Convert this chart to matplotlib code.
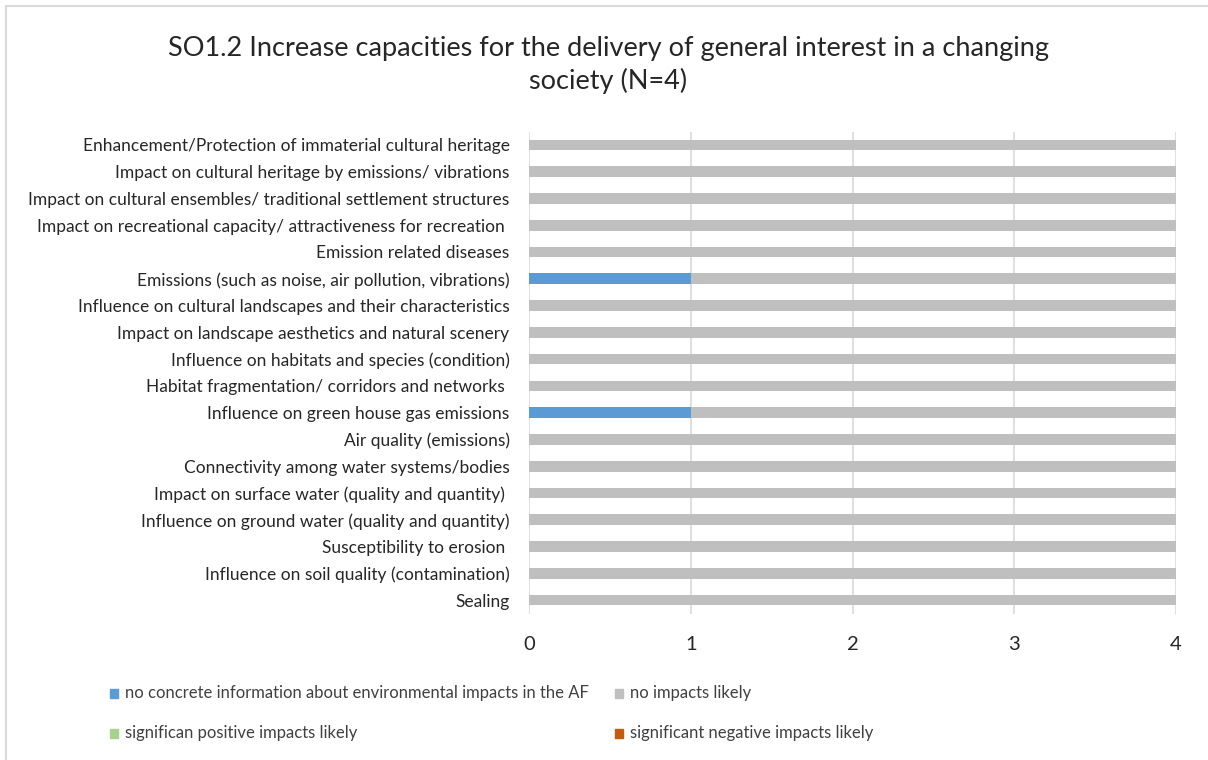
import matplotlib
matplotlib.use("Agg")
import matplotlib.pyplot as plt
from matplotlib.patches import Rectangle
import numpy as np

plt.rcParams['font.family'] = ['Lato', 'DejaVu Sans']

categories = [
    "Sealing",
    "Influence on soil quality (contamination)",
    "Susceptibility to erosion ",
    "Influence on ground water (quality and quantity)",
    "Impact on surface water (quality and quantity) ",
    "Connectivity among water systems/bodies",
    "Air quality (emissions)",
    "Influence on green house gas emissions",
    "Habitat fragmentation/ corridors and networks ",
    "Influence on habitats and species (condition)",
    "Impact on landscape aesthetics and natural scenery",
    "Influence on cultural landscapes and their characteristics",
    "Emissions (such as noise, air pollution, vibrations)",
    "Emission related diseases",
    "Impact on recreational capacity/ attractiveness for recreation ",
    "Impact on cultural ensembles/ traditional settlement structures",
    "Impact on cultural heritage by emissions/ vibrations",
    "Enhancement/Protection of immaterial cultural heritage",
]
no_info  = [0, 0, 0, 0, 0, 0, 0, 1, 0, 0, 0, 0, 1, 0, 0, 0, 0, 0]
no_impct = [4, 4, 4, 4, 4, 4, 4, 3, 4, 4, 4, 4, 3, 4, 4, 4, 4, 4]
positive = [0] * 18
negative = [0] * 18

series_names = [
    "no concrete information about environmental impacts in the AF",
    "no impacts likely",
    "significan positive impacts likely",
    "significant negative impacts likely",
]
series_vals = [no_info, no_impct, positive, negative]
colors = ["#5B9BD5", "#BFBFBF", "#A9D18E", "#C55A11"]
xticks = [0, 1, 2, 3, 4]
title = "SO1.2 Increase capacities for the delivery of general interest in a changing\nsociety (N=4)"

W, H = 1208, 760
fig = plt.figure(figsize=(W / 100, H / 100), dpi=100)
ax = fig.add_axes([529 / W, 1 - 613.5 / H, (1176 - 529) / W, (613.5 - 131.5) / H])

y = np.arange(len(categories))
left = np.zeros(len(categories))
for vals, c, name in zip(series_vals, colors, series_names):
    ax.barh(y, vals, left=left, height=0.4, color=c, label=name, zorder=3)
    left = left + np.array(vals)

ax.set_ylim(-0.5, len(categories) - 0.5)
ax.set_xlim(0, 4)
ax.set_xticks(xticks)
ax.set_xticklabels([str(t) for t in xticks], fontsize=14.5, color="#262626")
ax.set_yticks(y)
ax.set_yticklabels(categories, fontsize=12.5, color="#262626")
ax.tick_params(axis='x', length=0, pad=16)
ax.tick_params(axis='y', length=0, pad=14)
ax.grid(axis='x', color="#D9D9D9", linewidth=1.2, zorder=0)
for s in ax.spines.values():
    s.set_visible(False)

fig.text(608 / W, 1 - 65 / H, title, ha='center', va='center', fontsize=19.5,
         color="#262626", linespacing=1.32)

# legend drawn manually
leg_pos = [(110, 693), (615, 693), (110, 733), (615, 733)]
for (lx, ly), c, name in zip(leg_pos, colors, series_names):
    fig.patches.append(Rectangle((lx / W, 1 - (ly + 4.5) / H), 8 / W, 9 / H,
                                 transform=fig.transFigure, color=c, figure=fig))
    fig.text((lx + 15) / W, 1 - ly / H, name, ha='left', va='center',
             fontsize=12, color="#404040")

# outer chart border
fig.patches.append(Rectangle((6 / W, -0.01), 1.2, 1 - 6 / H + 0.01,
                             transform=fig.transFigure, fill=False,
                             edgecolor="#D9D9D9", linewidth=1.5, figure=fig))

fig.savefig("out.png", dpi=100)
